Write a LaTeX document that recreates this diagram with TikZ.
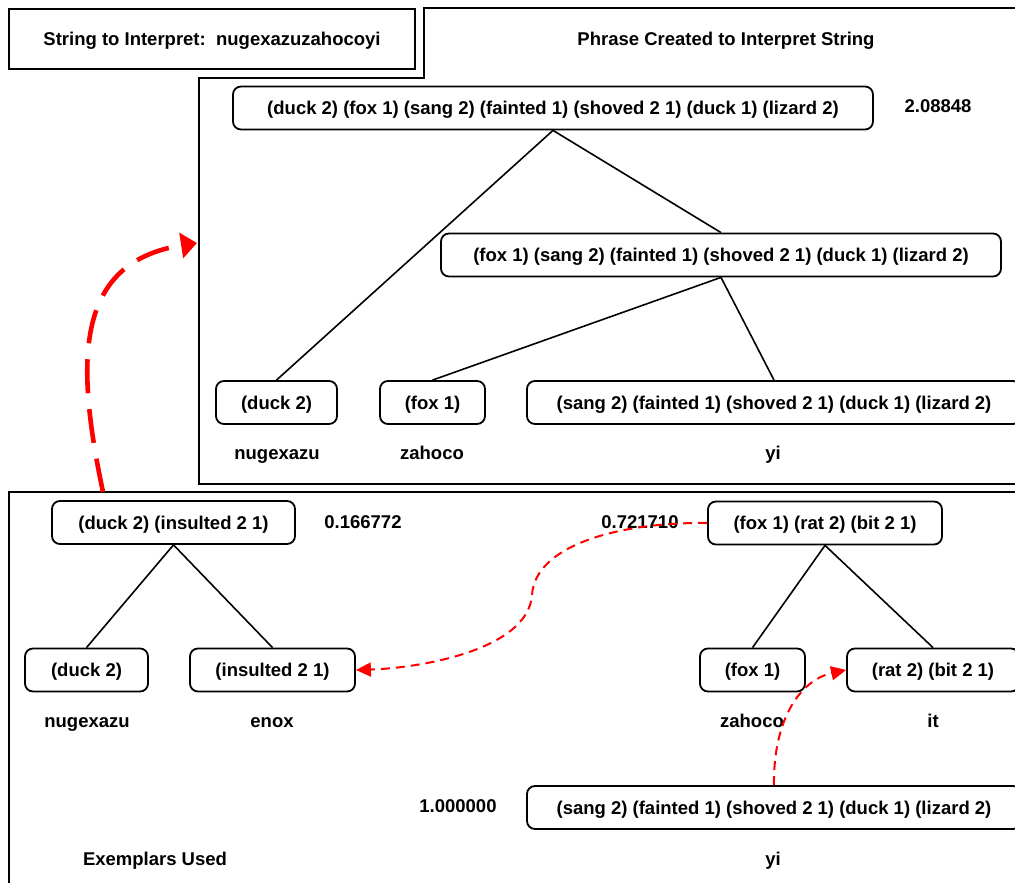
\documentclass[tikz,border=0pt]{standalone}
\usepackage{fontspec}
\setmainfont{Liberation Sans}
\usetikzlibrary{arrows.meta}
\newcommand{\dgfont}{\fontsize{18.5}{22}\selectfont\bfseries}
\begin{document}
\begin{tikzpicture}[x=1pt,y=-1pt,
  tn/.style={draw, rounded corners=8pt, line width=1.8pt, minimum height=43pt,
     inner sep=0pt, text height=15pt, text depth=2pt, font=\dgfont},
  lbl/.style={inner sep=0pt, text height=13pt, text depth=4pt, font=\dgfont},
  panel/.style={draw, line width=2.4pt},
  edge/.style={line width=1.6pt},
  bigarrow/.style={red, line width=4.6pt, dash pattern=on 34pt off 16pt,
     -{Triangle[length=16pt,width=25pt]}},
  thinarrow/.style={red, line width=2pt, dash pattern=on 9pt off 6pt,
     -{Triangle[length=15pt,width=14pt]}}]
\useasboundingbox (0,0) rectangle (1015,883);
\clip (0,0) rectangle (1015,883);
\fill[white] (0,0) rectangle (1015,883);

% panels
\draw[panel] (9,9) rectangle (415,69);
\draw[panel] (424,8) -- (1040,8) -- (1040,484) -- (199,484) -- (199,78) -- (424,78) -- cycle;
\draw[panel] (9,492) rectangle (1040,900);

\node[lbl] (t1) at (212,41.5) {String to Interpret:\ \ nugexazuzahocoyi};
\node[lbl] (t2) at (726,41) {Phrase Created to Interpret String};

% upper tree
\node[tn, minimum width=640pt] (root) at (553,108) {(duck 2) (fox 1) (sang 2) (fainted 1) (shoved 2 1) (duck 1) (lizard 2)};
\node[lbl] (s1) at (938,108.5) {2.08848};
\node[tn, minimum width=560pt] (mid) at (721,255) {(fox 1) (sang 2) (fainted 1) (shoved 2 1) (duck 1) (lizard 2)};
\node[tn, minimum width=121pt] (ld) at (276.5,402.5) {(duck 2)};
\node[tn, minimum width=105pt] (lf) at (432.5,402.5) {(fox 1)};
\node[tn, minimum width=494pt] (ls) at (774,402.5) {(sang 2) (fainted 1) (shoved 2 1) (duck 1) (lizard 2)};
\node[lbl] (w1) at (277,454.5) {nugexazu};
\node[lbl] (w2) at (432,454.5) {zahoco};
\node[lbl] (w3) at (773,454.5) {yi};
\draw[edge] (root.south) -- (ld.north);
\draw[edge] (root.south) -- (mid.north);
\draw[edge] (mid.south) -- (lf.north);
\draw[edge] (mid.south) -- (ls.north);

% lower trees
\node[tn, minimum width=243pt] (di) at (173.5,522.5) {(duck 2) (insulted 2 1)};
\node[lbl] (s2) at (363,523.5) {0.166772};
\node[lbl] (s3) at (640,523.5) {0.721710};
\node[tn, minimum width=234pt] (frb) at (825,523) {(fox 1) (rat 2) (bit 2 1)};
\node[tn, minimum width=123pt] (bd) at (86.5,670) {(duck 2)};
\node[tn, minimum width=165pt] (bi) at (272.5,670) {(insulted 2 1)};
\node[tn, minimum width=105pt] (bf) at (752.5,670) {(fox 1)};
\node[tn, minimum width=172pt] (br) at (933,670) {(rat 2) (bit 2 1)};
\node[lbl] (u1) at (87,722.5) {nugexazu};
\node[lbl] (u2) at (272,722.5) {enox};
\node[lbl] (u3) at (752,722.5) {zahoco};
\node[lbl] (u4) at (933,722.5) {it};
\node[lbl] (s4) at (458,807.5) {1.000000};
\node[tn, minimum width=494pt] (bs) at (774,807.5) {(sang 2) (fainted 1) (shoved 2 1) (duck 1) (lizard 2)};
\node[lbl] (ex) at (155,860.5) {Exemplars Used};
\node[lbl] (u5) at (773,861) {yi};
\draw[edge] (di.south) -- (bd.north);
\draw[edge] (di.south) -- (bi.north);
\draw[edge] (frb.south) -- (bf.north);
\draw[edge] (frb.south) -- (br.north);

% red connectors
\coordinate (exTop) at (103,492);
\coordinate (phLeft) at (197,243);
\draw[bigarrow] (exTop) .. controls (75,360) and (75,262) .. (phLeft);
\draw[thinarrow] (frb.west) .. controls (620,522) and (535,545) .. (532,595)
   .. controls (528,650) and (420,668) .. (bi.east);
\draw[thinarrow] (bs.north) .. controls (773,720) and (800,680) .. (br.west);
\end{tikzpicture}
\end{document}
